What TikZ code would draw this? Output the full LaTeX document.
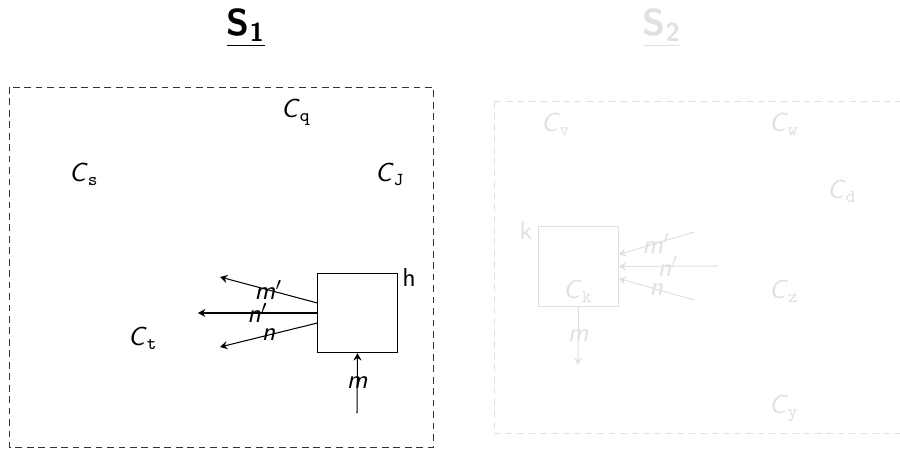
\documentclass[tikz,border=0pt]{standalone}
\usepackage{tikz}
\usetikzlibrary{arrows.meta,positioning}
\newcommand{\cname}[1]{$\textsf{\textit{C}}_{\mathtt{#1}}$}
\newcommand{\fvar}[1]{$\textsf{\textit{#1}}$}
\newcommand{\fvarp}[1]{$\textsf{\textit{#1}}'$}

\begin{document}
\begin{tikzpicture}[
  x=0.0135cm,y=-0.0135cm,
  lbl/.style={font=\normalsize\sffamily,inner sep=0pt},
  title/.style={font=\Large\sffamily\bfseries,inner sep=0pt},
  unit/.style={draw,minimum size=1.07cm,inner sep=0pt},
  frame/.style={dashed,dash pattern=on 2.6pt off 1.8pt,line width=0.35pt},
  flow/.style={-{Stealth[length=1mm,width=1.1mm,inset=0.35mm]},thin},
  faded/.style={draw=black!12,text=black!12,color=black!12}
]
\useasboundingbox (0,0) rectangle (900,450);
% system 1
\node[title] (s1) at (246,28) {\underline{S\textsubscript{1}}};
\draw[frame,draw=black!80] (9,87) rectangle (433,447);
\node[lbl] (cq) at (296,112) {\cname{q}};
\node[lbl] (cs) at (84,174) {\cname{s}};
\node[lbl] (cj) at (390,174) {\cname{J}};
\node[lbl] (ct) at (143,338) {\cname{t}};
\node[unit] (h) at (357.5,313) {};
\node[lbl] (hname) at (409,277) {h};
\coordinate (mpout) at (220,277);
\coordinate (npout) at (198,313);
\coordinate (nout) at (220,347);
\coordinate (min) at (357,413);
\draw[flow] ([yshift=10*0.0135cm]h.west) -- node[lbl]{\fvarp{m}} (mpout);
\draw[flow] (h.west) -- node[lbl]{\fvarp{n}} (npout);
\draw[flow] ([yshift=-10*0.0135cm]h.west) -- node[lbl]{\fvar{n}} (nout);
\draw[flow] (min) -- node[lbl]{\fvar{m}} (h.south);
% system 2
\begin{scope}[faded]
\node[title] (s2) at (662,28) {\underline{S\textsubscript{2}}};
\draw[frame] (494,101) rectangle (910,433);
\node[lbl] (cv) at (556,124) {\cname{v}};
\node[lbl] (cw) at (784,124) {\cname{w}};
\node[lbl] (cd) at (842,191) {\cname{d}};
\node[lbl] (cz) at (784,291) {\cname{z}};
\node[lbl] (cy) at (784,408) {\cname{y}};
\node[unit] (k) at (578.5,266.5) {};
\node[lbl] (ck) at (578,291) {\cname{k}};
\node[lbl] (kname) at (526,230) {k};
\coordinate (mpin) at (694,232);
\coordinate (npin) at (718,266);
\coordinate (nin) at (694,300);
\coordinate (mout) at (578,365);
\draw[flow] (mpin) -- node[lbl]{\fvarp{m}} ([yshift=12*0.0135cm]k.east);
\draw[flow] (npin) -- node[lbl]{\fvarp{n}} (k.east);
\draw[flow] (nin) -- node[lbl]{\fvar{n}} ([yshift=-12*0.0135cm]k.east);
\draw[flow] (k.south) -- node[lbl]{\fvar{m}} (mout);
\end{scope}
\end{tikzpicture}
\end{document}
